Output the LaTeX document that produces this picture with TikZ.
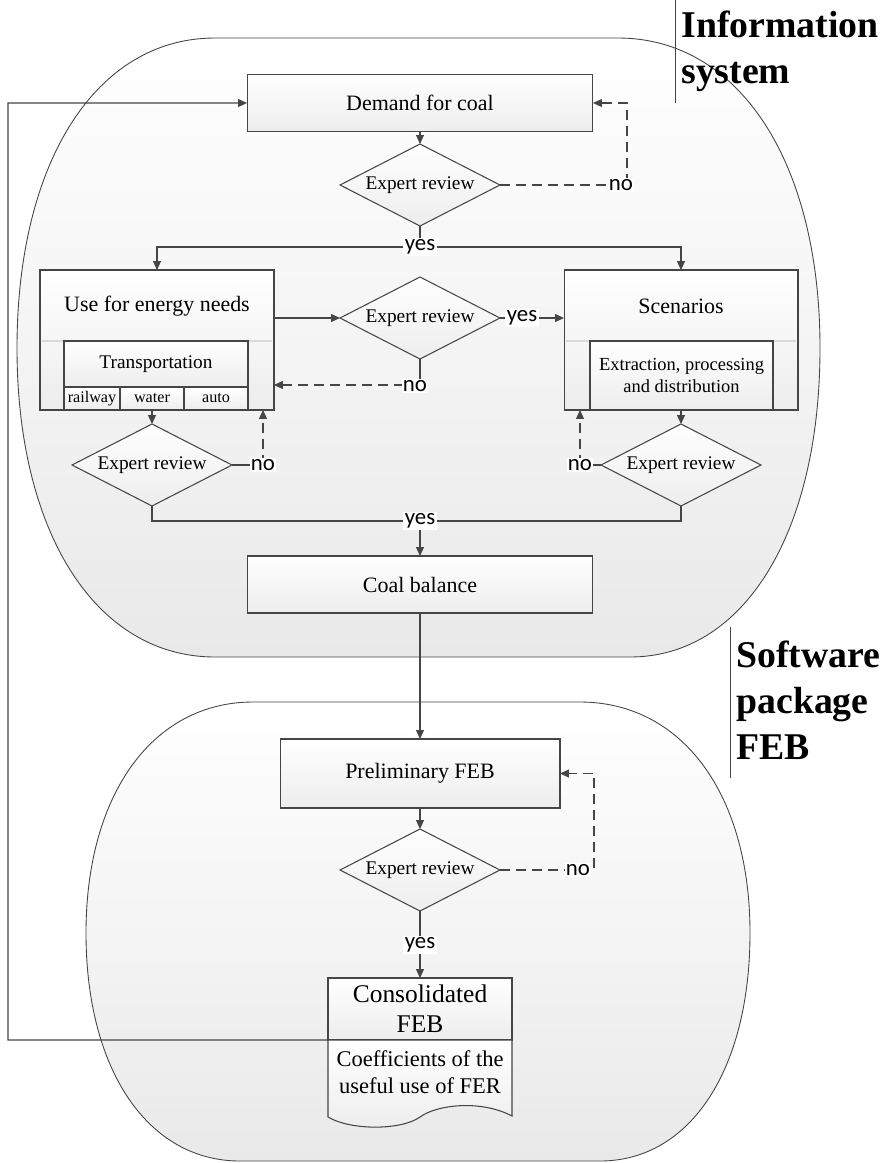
\documentclass[tikz,border=0pt]{standalone}
\usepackage{fontspec}
\setmainfont{Liberation Serif}
\newfontfamily\lblfont{Carlito}
\usetikzlibrary{shapes.geometric,arrows.meta}
\definecolor{lnc}{HTML}{454545}
\definecolor{blobfill}{HTML}{E9E9E9}
\definecolor{boxfill}{HTML}{EDEDED}

\begin{document}
\begin{tikzpicture}[x=0.02cm,y=-0.02cm,
	line/.style={draw=lnc,line width=0.6pt},
	arr/.style={line,-{Triangle[length=1.8mm,width=1.6mm]}},
	darr/.style={arr,dash pattern=on 2mm off 1.2mm},
	box/.style={draw=lnc,line width=0.6pt,rectangle,top color=white,bottom color=boxfill,inner sep=0,outer sep=0,font=\fontsize{12.5}{15}\selectfont},
	cell/.style={box,minimum height=0.46cm,font=\fontsize{9.2}{11}\selectfont},
	review/.style={box,diamond,shape aspect=1.95,minimum width=3.2cm,minimum height=1.64cm,font=\fontsize{11}{13}\selectfont},
	lbl/.style={fill=white,inner sep=0.8pt,font=\lblfont\fontsize{13}{15}\selectfont},
	ttl/.style={anchor=north west,align=left,inner sep=0,font=\fontsize{21.5}{26}\selectfont\bfseries},
	blob/.style={draw=lnc,line width=0.5pt,top color=white,bottom color=blobfill},
	docfill/.style={draw=lnc,line width=0.6pt,top color=white,bottom color=boxfill}]
	\useasboundingbox (0,0) rectangle (885,1163);
	\path[blob] (215,38) -- (618,38) .. controls (739,38) and (820,162) .. (820,348) .. controls (820,533) and (744,657) .. (630,657) -- (215,657) .. controls (96,657) and (17,533) .. (17,348) .. controls (17,162) and (96,38) .. (215,38) -- cycle;
	\path[blob] (253,702) -- (580,702) .. controls (682,702) and (750,794) .. (750,933) .. controls (750,1070) and (690,1161) .. (600,1161) -- (240,1161) .. controls (148,1161) and (86,1070) .. (86,933) .. controls (86,794) and (153,702) .. (253,702) -- cycle;
	\node[ttl] (info) at (681,11) {Information\\system};
	\node[ttl] (soft) at (736,641) {Software\\package\\FEB};
	\draw[draw=lnc,line width=0.4pt] (675,0) -- (675,103);
	\draw[draw=lnc,line width=0.4pt] (730,627) -- (730,778);
	\node[box,minimum width=6.92cm,minimum height=1.14cm] (demand) at (420,103) {Demand for coal};
	\node[review] (rev1) at (420,185) {Expert review};
	\node[box,minimum width=4.68cm,minimum height=2.8cm] (useen) at (157,340) {};
	\node[font=\fontsize{12.5}{15}\selectfont] (usettl) at (157,306) {Use for energy needs};
	\draw[draw=gray!30,line width=0.6pt] (42,341) -- (272,341);
	\node[box,minimum width=3.68cm,minimum height=0.92cm,font=\fontsize{11}{13}\selectfont] (trans) at (156,364) {Transportation};
	\node[cell,minimum width=1.12cm] (rail) at (92,398.5) {railway};
	\node[cell,minimum width=1.28cm] (water) at (152,398.5) {water};
	\node[cell,minimum width=1.28cm] (auto) at (216,398.5) {auto};
	\node[box,minimum width=4.68cm,minimum height=2.8cm] (scen) at (681,340) {};
	\node[font=\fontsize{12.5}{15}\selectfont] (scenttl) at (681,306) {Scenarios};
	\draw[draw=gray!30,line width=0.6pt] (566,341) -- (796,341);
	\node[box,minimum width=3.66cm,minimum height=1.38cm,align=center,font=\fontsize{10.5}{13}\selectfont] (extr) at (681.5,375.5) {Extraction, processing\\and distribution};
	\node[review] (rev2) at (420,318) {Expert review};
	\node[review] (rev3) at (152,465) {Expert review};
	\node[review] (rev4) at (681,465) {Expert review};
	\node[box,minimum width=6.92cm,minimum height=1.14cm] (coal) at (420,584.5) {Coal balance};
	\node[box,minimum width=5.6cm,minimum height=1.38cm] (prelim) at (420,773.5) {Preliminary FEB};
	\node[review] (rev5) at (420,870) {Expert review};
	\node[box,minimum width=3.68cm,minimum height=1.24cm,align=center,font=\fontsize{14.5}{17}\selectfont] (cons) at (420,1009) {Consolidated\\FEB};
	\path[docfill] (cons.south west) -- (328,1117) .. controls (352,1131) and (402,1130) .. (420,1117) .. controls (438,1104) and (482,1100) .. (512,1116) -- (cons.south east) -- cycle;
	\node[align=center,font=\fontsize{12.8}{15.3}\selectfont] (coef) at (420,1072) {Coefficients of the\\useful use of FER};
	\draw[arr] (demand.south) -- (rev1.north);
	\coordinate (split) at (420,247);
	\draw[line] (rev1.south) -- (split);
	\draw[arr] (split) -| (useen.north);
	\draw[arr] (split) -| (scen.north);
	\node[lbl] (yes1) at (split) {yes};
	\coordinate (no1c) at (627,185);
	\draw[darr] (rev1.east) -- (no1c) |- (demand.east);
	\node[lbl] (no1) at (621,185) {no};
	\draw[arr] (rev2.west -| useen.east) -- (rev2.west);
	\draw[arr] (rev2.east) -- (rev2.east -| scen.west);
	\node[lbl] (yes2) at (522,318) {yes};
	\coordinate (no2c) at (420,385);
	\draw[line] (rev2.south) -- (no2c);
	\draw[darr] (no2c) -- (no2c -| useen.east);
	\node[lbl] (no2) at (415,386) {no};
	\draw[arr] (rev3.north |- useen.south) -- (rev3.north);
	\coordinate (no3c) at (263,465);
	\draw[line] (rev3.east) -- (no3c);
	\draw[darr] (no3c) -- (no3c |- useen.south);
	\node[lbl] (no3) at (no3c) {no};
	\draw[arr] (rev4.north |- scen.south) -- (rev4.north);
	\coordinate (no4c) at (580,465);
	\draw[line] (rev4.west) -- (no4c);
	\draw[darr] (no4c) -- (no4c |- scen.south);
	\node[lbl] (no4) at (no4c) {no};
	\coordinate (join) at (420,521);
	\draw[line] (rev3.south) |- (join);
	\draw[line] (rev4.south) |- (join);
	\draw[arr] (join) -- (coal.north);
	\node[lbl] (yes3) at (join) {yes};
	\draw[arr] (coal.south) -- (prelim.north);
	\draw[arr] (prelim.south) -- (rev5.north);
	\coordinate (no5c) at (594,870);
	\draw[darr] (rev5.east) -- (no5c) |- (prelim.east);
	\node[lbl] (no5) at (578,870) {no};
	\draw[arr] (rev5.south) -- (cons.north);
	\node[lbl] (yes4) at (420,945) {yes};
	\coordinate (fb) at (8,1040);
	\draw[arr] (cons.south west) -- (fb) |- (demand.west);
\end{tikzpicture}
\end{document}
